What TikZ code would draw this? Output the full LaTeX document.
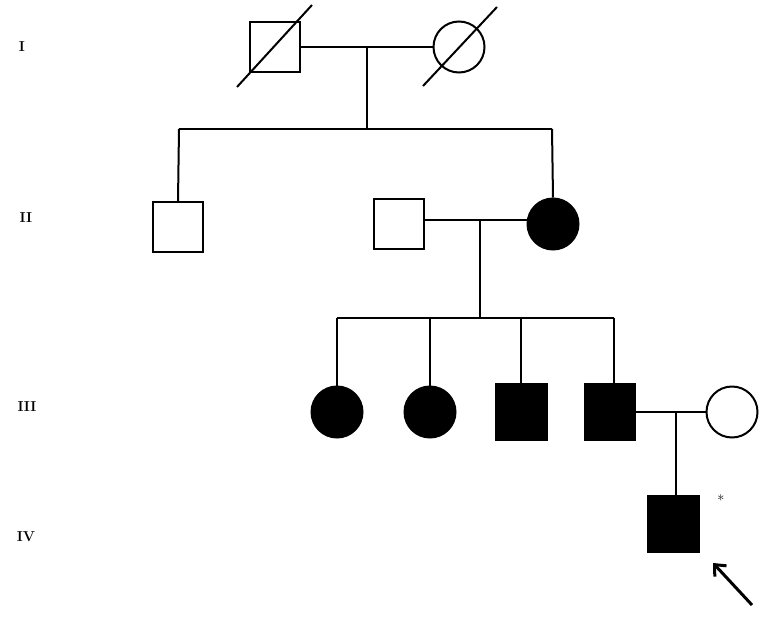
\documentclass[tikz,border=0pt]{standalone}
\usetikzlibrary{arrows.meta}
\begin{document}
\begin{tikzpicture}[x=1pt,y=-1pt,line width=2pt,
  male/.style={draw,minimum size=50pt,inner sep=0pt},
  fem/.style={draw,circle,minimum size=51pt,inner sep=0pt},
  aff/.style={fill=black},
  gen/.style={font=\bfseries\Large}]
\useasboundingbox (0,0) rectangle (770,621);
\node[gen] (g1) at (22,47) {I};
\node[gen] (g2) at (26,218) {II};
\node[gen] (g3) at (27,407) {III};
\node[gen] (g4) at (26,537) {IV};
% Gen I
\node[male] (i1) at (275,47) {};
\node[fem] (i2) at (459,47) {};
\draw (237,87) -- (312,5);
\draw (423,86) -- (497,7);
\draw (i1.east) -- (i2.west);
\coordinate (m1) at (367,47);
\coordinate (s1) at (367,129);
\draw (m1) -- (s1);
\draw (179,129) -- (552,129);
% Gen II
\node[male] (ii1) at (178,227) {};
\node[male] (ii2) at (399,224) {};
\node[fem,aff] (ii3) at (553,224) {};
\draw (179,129) -- (ii1.north);
\draw (552,129) -- (ii3.north);
\draw (ii2.east |- 0,220) -- (ii3.west |- 0,220);
\draw (480,220) -- (480,318);
\draw (337,318) -- (614,318);
% Gen III
\node[fem,aff] (iii1) at (337,412) {};
\node[fem,aff] (iii2) at (430,412) {};
\node[male,aff,minimum width=51pt,minimum height=56pt] (iii3) at (521,412) {};
\node[male,aff,minimum width=50pt,minimum height=56pt] (iii4) at (610,412) {};
\node[fem] (iii5) at (732,412) {};
\foreach \n/\x in {iii1/337,iii2/430,iii3/521,iii4/614} \draw (\x,318) -- (\x,386);
\draw (iii4.east) -- (iii5.west);
% Gen IV
\node[male,aff,minimum width=51pt,minimum height=56pt] (iv1) at (673,524) {};
\draw (676,412) -- (676,496);
\node[font=\Large] (ast) at (721,500) {*};
\coordinate (a0) at (752,605);
\coordinate (a1) at (713,563);
\draw[line width=3pt,-{Straight Barb[length=9pt,width=16pt]}] (a0) -- (a1);
\end{tikzpicture}
\end{document}
